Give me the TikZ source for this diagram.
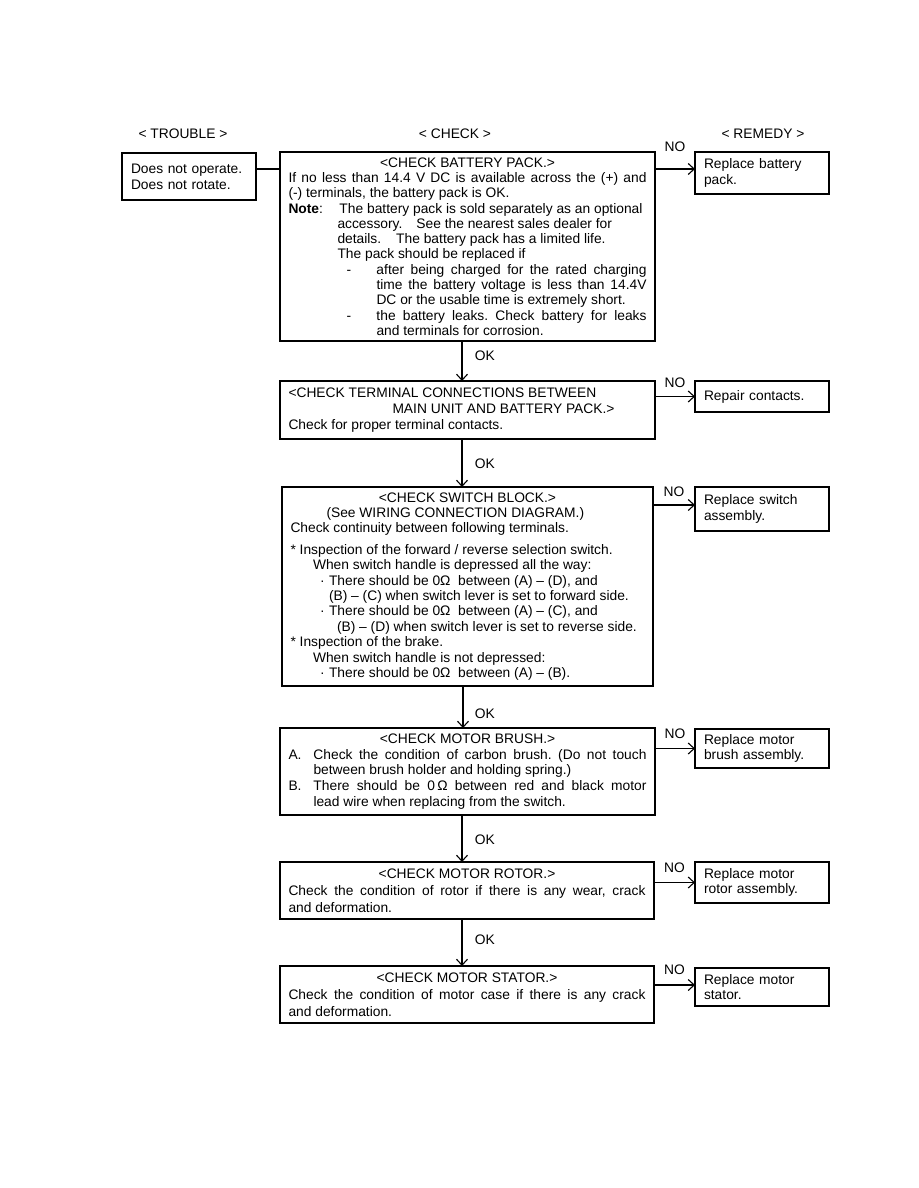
\documentclass[tikz,border=0pt]{standalone}
\usepackage{fontspec}
\setmainfont{Liberation Sans}
\usetikzlibrary{arrows.meta,positioning}
\frenchspacing

% one line of a box: centred, left with indent, or stretched to full width
\newcommand{\ctrline}[1]{\hbox to\hsize{\spaceskip=0pt\xspaceskip=0pt\hfil#1\hfil}}
\newcommand{\lfline}[2][0pt]{\hbox{\spaceskip=0pt\xspaceskip=0pt\hspace*{#1}#2}}
\newcommand{\jsline}[2][0pt]{\hbox to\hsize{\spaceskip=0pt\xspaceskip=0pt\hspace*{#1}#2}}

\begin{document}
\begin{tikzpicture}[x=1pt, y=-1pt,
    font=\fontsize{13.8}{15.3}\selectfont,
    checkbox/.style={draw, line width=1.8pt, anchor=north west, outer sep=0pt,
      inner xsep=8.5pt, inner ysep=0pt, text width=358pt, minimum height=#1},
    remedybox/.style={draw, line width=1.8pt, anchor=north west, outer sep=0pt,
      inner xsep=9pt, inner ysep=0pt, text width=116pt, minimum height=#1, align=left},
    flow/.style={line width=1.1pt, -{Straight Barb[length=6pt,width=11pt,line width=1.1pt]}},
  ]
  \useasboundingbox (0,0) rectangle (918,1188);

  % Headers
  \node (hTrouble) at (183,134) {< TROUBLE >};
  \node (hCheck) at (455,134) {< CHECK >};
  \node (hRemedy) at (763,134) {< REMEDY >};

  % Trouble
  \node[draw, line width=2.8pt, anchor=north west, outer sep=0pt, inner xsep=9pt,
    text width=116pt, minimum height=47pt, align=left, font=\fontsize{13.8}{16}\selectfont]
    (trouble) at (122,153) {Does not operate.\\Does not rotate.};

  % Checks
  \node[checkbox=189pt] (bat) at (280,152) {%
    \ctrline{<CHECK BATTERY PACK.>}
    \jsline{If no less than 14.4 V DC is available across the (+) and}
    \lfline{(-) terminals, the battery pack is OK.}
    \lfline{\makebox[51pt][l]{\textbf{Note}:}The battery pack is sold separately as an optional}
    \lfline[49pt]{accessory.\hspace{14pt}See the nearest sales dealer for}
    \lfline[49pt]{details.\hspace{15pt}The battery pack has a limited life.}
    \lfline[49pt]{The pack should be replaced if}
    \jsline[58pt]{\makebox[30pt][l]{-}after being charged for the rated charging}
    \jsline[88pt]{time the battery voltage is less than 14.4V}
    \lfline[88pt]{DC or the usable time is extremely short.}
    \jsline[58pt]{\makebox[30pt][l]{-}the battery leaks. Check battery for leaks}
    \lfline[88pt]{and terminals for corrosion.}};

  \node[checkbox=58pt, font=\fontsize{13.8}{16}\selectfont] (term) at (280,381) {%
    \lfline{<CHECK TERMINAL CONNECTIONS BETWEEN}
    \lfline[104pt]{MAIN UNIT AND BATTERY PACK.>}
    \lfline{Check for proper terminal contacts.}};

  \node[checkbox=199pt, text width=354pt, font=\fontsize{13.8}{15.4}\selectfont] (switch) at (282,487) {%
    \ctrline{<CHECK SWITCH BLOCK.>}
    \lfline[36pt]{(See WIRING CONNECTION DIAGRAM.)}
    \lfline{Check continuity between following terminals.}
    \vskip 6pt
    \lfline{* Inspection of the forward / reverse selection switch.}
    \lfline[22.5pt]{When switch handle is depressed all the way:}
    \lfline[29.5pt]{\makebox[9pt][l]{·}There should be 0Ω\ \ between (A) – (D), and}
    \lfline[38.5pt]{(B) – (C) when switch lever is set to forward side.}
    \lfline[29.5pt]{\makebox[9pt][l]{·}There should be 0Ω\ \ between (A) – (C), and}
    \lfline[46.5pt]{(B) – (D) when switch lever is set to reverse side.}
    \lfline{* Inspection of the brake.}
    \lfline[22.5pt]{When switch handle is not depressed:}
    \lfline[29.5pt]{\makebox[9pt][l]{·}There should be 0Ω\ \ between (A) – (B).}};

  \node[checkbox=87pt, font=\fontsize{13.8}{15.7}\selectfont] (brush) at (280,728) {%
    \ctrline{<CHECK MOTOR BRUSH.>}
    \jsline{\makebox[25pt][l]{A.}Check the condition of carbon brush. (Do not touch}
    \lfline[25pt]{between brush holder and holding spring.)}
    \jsline{\makebox[25pt][l]{B.}There should be 0\,Ω between red and black motor}
    \lfline[25pt]{lead wire when replacing from the switch.}};

  \node[checkbox=57pt, text width=357pt, font=\fontsize{13.8}{17}\selectfont] (rotor) at (280,862) {%
    \ctrline{<CHECK MOTOR ROTOR.>}
    \jsline{Check the condition of rotor if there is any wear, crack}
    \lfline{and deformation.}};

  \node[checkbox=57pt, text width=357pt, font=\fontsize{13.8}{17}\selectfont] (stator) at (280,966) {%
    \ctrline{<CHECK MOTOR STATOR.>}
    \jsline{Check the condition of motor case if there is any crack}
    \lfline{and deformation.}};

  % Remedies
  \node[remedybox=42pt] (rem1) at (695,152) {Replace battery\\pack.};
  \node[remedybox=31pt] (rem2) at (695,381) {Repair contacts.};
  \node[remedybox=44pt] (rem3) at (695,487) {Replace switch\\assembly.};
  \node[remedybox=39pt] (rem4) at (695,729) {Replace motor\\brush assembly.};
  \node[remedybox=41pt] (rem5) at (695,862) {Replace motor\\rotor assembly.};
  \node[remedybox=38pt] (rem6) at (695,968) {Replace motor\\stator.};

  % Connectors
  \coordinate (spine) at (462,0);
  \coordinate (in1) at ([yshift=4pt]rem1.west);
  \coordinate (in3) at ([yshift=4pt]rem3.west);
  \coordinate (in6) at ([yshift=2pt]rem6.west);

  \draw[line width=1.1pt] ([yshift=7.5pt]trouble.east) -- ([yshift=7.5pt]trouble.east -| bat.west);

  \draw[flow] (bat.east |- in1) -- node[above=13pt] (no1) {NO} (in1);
  \draw[flow] (term.east |- rem2.west) -- node[above=5pt] (no2) {NO} (rem2.west);
  \draw[flow] (switch.east |- in3) -- node[above=4pt] (no3) {NO} (in3);
  \draw[flow] (brush.east |- rem4.west) -- node[above=6pt] (no4) {NO} (rem4.west);
  \draw[flow] (rotor.east |- rem5.west) -- node[above=6pt] (no5) {NO} (rem5.west);
  \draw[flow] (stator.east |- in6) -- node[above=6pt] (no6) {NO} (in6);

  \draw[flow] (bat.south -| spine) -- node[pos=0.38, right=9pt] (ok1) {OK} (term.north -| spine);
  \draw[flow] (term.south -| spine) -- node[pos=0.52, right=9pt] (ok2) {OK} (switch.north -| spine);
  \draw[flow] ([xshift=1pt]switch.south -| spine) -- node[pos=0.66, right=8pt] (ok3) {OK} ([xshift=1pt]brush.north -| spine);
  \draw[flow] (brush.south -| spine) -- node[pos=0.52, right=9pt] (ok4) {OK} (rotor.north -| spine);
  \draw[flow] (rotor.south -| spine) -- node[pos=0.45, right=9pt] (ok5) {OK} (stator.north -| spine);
\end{tikzpicture}
\end{document}
